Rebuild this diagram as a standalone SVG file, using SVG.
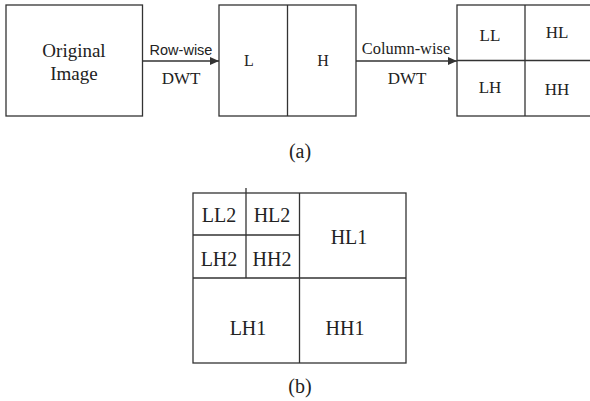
<svg xmlns="http://www.w3.org/2000/svg" width="590" height="401" viewBox="0 0 590 401">
<style>
.box{fill:#fff;stroke:#333;stroke-width:1.3}
.ln{stroke:#333;stroke-width:1.3;fill:none}
.t{fill:#222;text-anchor:middle}
.s{fill:#222;text-anchor:middle}
</style>
<defs>
<marker id="ah" markerWidth="10" markerHeight="8" refX="9" refY="4" orient="auto" markerUnits="userSpaceOnUse">
<path d="M0,0 L9,4 L0,8 Z" fill="#333"/>
</marker>
</defs>
<rect width="590" height="401" fill="#fff"/>
<g font-family="'Liberation Serif', 'DejaVu Serif', serif">
<g id="original">
<rect class="box" x="6" y="5" width="136.5" height="111"/>
<text class="t" x="74" y="57" font-size="19">Original</text>
<text class="t" x="74" y="80" font-size="19">Image</text>
</g>
<g id="lh-split">
<rect class="box" x="219" y="5" width="137" height="111"/>
<line class="ln" x1="287.5" y1="5" x2="287.5" y2="116"/>
<text class="t" x="249" y="66" font-size="16">L</text>
<text class="t" x="323" y="66" font-size="16">H</text>
</g>
<g id="quad">
<rect class="box" x="457" y="5" width="137" height="111"/>
<line class="ln" x1="525" y1="5" x2="525" y2="116"/>
<line class="ln" x1="457" y1="60.5" x2="594" y2="60.5"/>
<text class="t" x="490" y="41" font-size="17">LL</text>
<text class="t" x="557" y="38" font-size="17">HL</text>
<text class="t" x="490" y="93" font-size="17">LH</text>
<text class="t" x="557" y="95" font-size="17">HH</text>
</g>
<g id="connectors">
<line class="ln" x1="142.5" y1="61" x2="219" y2="61" marker-end="url(#ah)"/>
<line class="ln" x1="356" y1="61" x2="457" y2="61" marker-end="url(#ah)"/>
</g>
<g id="labels">
<text class="s" x="181" y="55" font-size="14.5" font-family="'Liberation Sans', Arial, sans-serif">Row-wise</text>
<text class="t" x="181" y="84" font-size="17">DWT</text>
<text class="t" x="406" y="54" font-size="16.4">Column-wise</text>
<text class="t" x="407" y="84" font-size="17">DWT</text>
<text class="t" x="300" y="158" font-size="20">(a)</text>
<text class="t" x="300" y="393" font-size="20">(b)</text>
</g>
<g id="pyramid">
<rect class="box" x="193" y="193" width="213" height="170"/>
<line class="ln" x1="299.5" y1="193" x2="299.5" y2="363"/>
<line class="ln" x1="193" y1="278" x2="406" y2="278"/>
<line class="ln" x1="246" y1="188" x2="246" y2="278"/>
<line class="ln" x1="193" y1="235" x2="299.5" y2="235"/>
<text class="t" x="219" y="222" font-size="20">LL2</text>
<text class="t" x="272" y="222" font-size="20">HL2</text>
<text class="t" x="219" y="266" font-size="20">LH2</text>
<text class="t" x="272" y="266" font-size="20">HH2</text>
<text class="t" x="349" y="244" font-size="20">HL1</text>
<text class="t" x="248" y="335" font-size="20">LH1</text>
<text class="t" x="345" y="335" font-size="20">HH1</text>
</g>
</g>
</svg>
